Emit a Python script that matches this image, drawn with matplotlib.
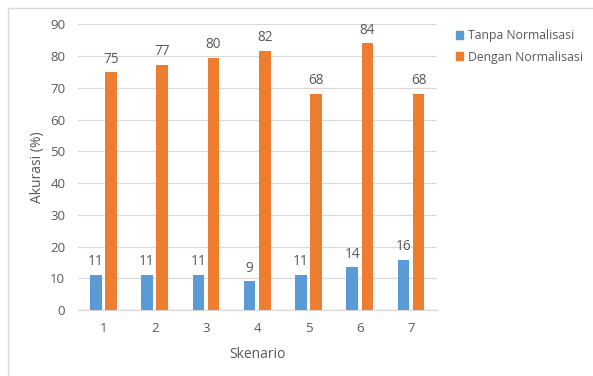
import matplotlib
matplotlib.use("Agg")
import matplotlib.pyplot as plt
from matplotlib.lines import Line2D
import numpy as np

plt.rcParams['font.family'] = ['Open Sans', 'DejaVu Sans']

categories = ["1", "2", "3", "4", "5", "6", "7"]
tanpa = [11.1, 11.1, 11.1, 9.1, 11.1, 13.5, 15.8]
dengan = [74.9, 77.2, 79.5, 81.6, 68.1, 84.0, 68.1]
series_names = ["Tanpa Normalisasi", "Dengan Normalisasi"]
yticks = [0, 10, 20, 30, 40, 50, 60, 70, 80, 90]

blue = "#5B9BD5"
orange = "#ED7D31"
text_col = "#595959"

W, H = 593, 376
fig = plt.figure(figsize=(W / 100, H / 100), dpi=100)
ax = fig.add_axes([77.7 / W, 1 - 310 / H, (436.7 - 77.7) / W, (310 - 24.3) / H])

x = np.arange(len(categories))
bw = 0.225
off = 0.147
b1 = ax.bar(x - off, tanpa, bw, color=blue, label=series_names[0], zorder=3)
b2 = ax.bar(x + off, dengan, bw, color=orange, label=series_names[1], zorder=3)

for bars, vals in ((b1, tanpa), (b2, dengan)):
    for rect, v in zip(bars, vals):
        ax.annotate(f"{v:.0f}", (rect.get_x() + rect.get_width() / 2, v),
                    xytext=(0, 4), textcoords="offset points",
                    ha="center", va="bottom", fontsize=9.8, color=text_col)

ax.set_xlim(-0.5, len(categories) - 0.5)
ax.set_ylim(0, 90)
ax.set_yticks(yticks)
ax.set_xticks(x)
ax.set_xticklabels(categories)
ax.yaxis.grid(True, color="#D9D9D9", linewidth=0.9, zorder=0)
ax.set_axisbelow(True)
for s in ("top", "right", "left"):
    ax.spines[s].set_visible(False)
ax.spines["bottom"].set_color("#D9D9D9")
ax.spines["bottom"].set_linewidth(0.9)
ax.tick_params(axis="both", length=0, colors=text_col, labelsize=9.5)
ax.tick_params(axis="y", pad=9)
ax.tick_params(axis="x", pad=9)

ax.set_ylabel("Akurasi (%)", color=text_col, fontsize=10, labelpad=4)
ax.set_xlabel("Skenario", color=text_col, fontsize=10, labelpad=8)

handles = [plt.Rectangle((0, 0), 1, 1, color=blue),
           plt.Rectangle((0, 0), 1, 1, color=orange)]
fig.legend(handles, series_names, loc="upper left",
           bbox_to_anchor=(445 / W, 1 - 18 / H), frameon=False,
           fontsize=8.8, labelcolor=text_col, handlelength=0.6,
           handleheight=0.6, handletextpad=0.35, labelspacing=0.7)

# thin frame edges around the chart
fig.add_artist(Line2D([7.5 / W, 1], [1 - 7.5 / H, 1 - 7.5 / H],
                      transform=fig.transFigure, color="#D9D9D9", linewidth=1))
fig.add_artist(Line2D([7.5 / W, 7.5 / W], [0, 1 - 7.5 / H],
                      transform=fig.transFigure, color="#D9D9D9", linewidth=1))

fig.savefig("out.png", dpi=100, facecolor="white")
